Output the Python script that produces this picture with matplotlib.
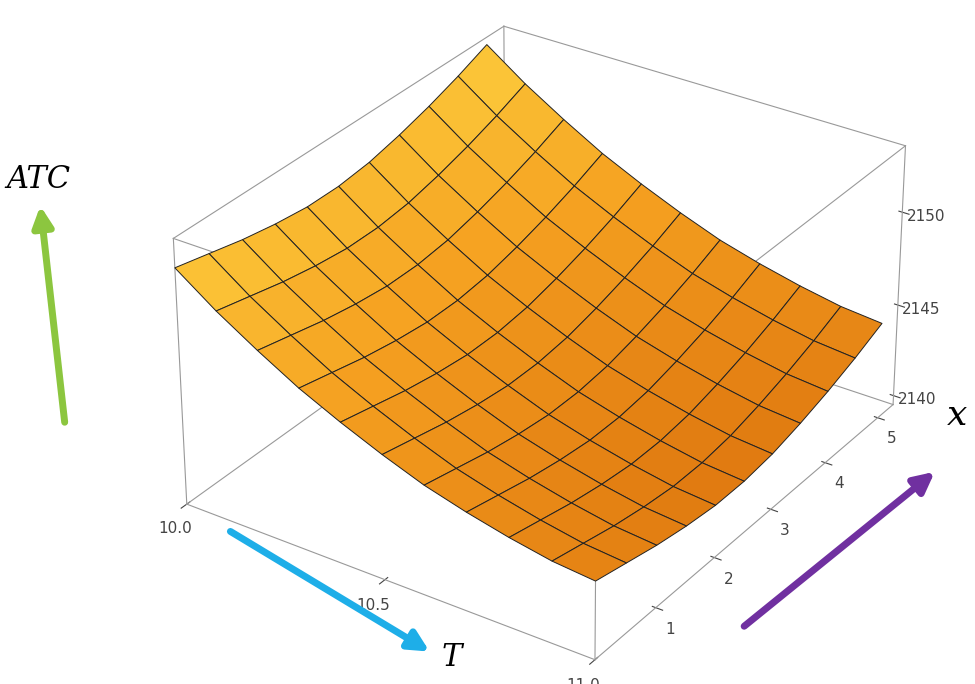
import numpy as np
import matplotlib
matplotlib.use("Agg")
import matplotlib.pyplot as plt
from matplotlib.colors import LinearSegmentedColormap

# T grid and the ATC profile along the x = 0 edge
T_vals = [10.0, 10.1, 10.2, 10.3, 10.4, 10.5, 10.6, 10.7, 10.8, 10.9, 11.0]
atc_T = [2152.0, 2150.5, 2149.2, 2148.0, 2147.0, 2146.1, 2145.3, 2144.7, 2144.2, 2143.8, 2143.6]
# x grid and the ATC offset along x
x_vals = [0.0, 0.5, 1.0, 1.5, 2.0, 2.5, 3.0, 3.5, 4.0, 4.5, 5.0]
atc_x = [0.0, -0.4, -0.8, -1.1, -1.3, -1.3, -1.1, -0.7, -0.2, 0.4, 1.1]

z_ticks = [2140, 2145, 2150]
T_ticks = [10.0, 10.5, 11.0]
x_ticks = [1, 2, 3, 4, 5]

TT, XX = np.meshgrid(T_vals, x_vals, indexing="ij")
ZZ = np.array(atc_T)[:, None] + np.array(atc_x)[None, :]

fig = plt.figure(figsize=(9.75, 6.84), dpi=100)
ax = fig.add_axes([0.06, -0.06, 0.98, 1.14], projection="3d")
ax.set_box_aspect((1.0, 1.15, 0.62))
ax.view_init(elev=30, azim=-56)

cmap = LinearSegmentedColormap.from_list("mm", ["#e07a10", "#f5a020", "#fcc93a"])
norm = (ZZ - ZZ.min()) / (ZZ.max() - ZZ.min())
ax.plot_surface(TT, XX, ZZ, facecolors=cmap(norm), edgecolor="#222222", linewidth=0.7,
                shade=False, antialiased=True)

t0, t1 = 10.0, 11.0
x0, x1 = 0.0, 5.3
z0, z1 = 2139.5, 2153.5
ax.set_xlim(t0, t1)
ax.set_ylim(x0, x1)
ax.set_zlim(z0, z1)

# bounding box like Mathematica
for a in (t0, t1):
    for b in (x0, x1):
        ax.plot([a, a], [b, b], [z0, z1], color="#999999", lw=0.8)
    for c in (z0, z1):
        ax.plot([a, a], [x0, x1], [c, c], color="#999999", lw=0.8)
for b in (x0, x1):
    for c in (z0, z1):
        ax.plot([t0, t1], [b, b], [c, c], color="#999999", lw=0.8)

for axis in (ax.xaxis, ax.yaxis, ax.zaxis):
    axis.set_pane_color((1, 1, 1, 0))
    axis.line.set_color((1, 1, 1, 0))
    axis._axinfo["grid"]["linewidth"] = 0
    axis._axinfo["tick"]["color"] = "#777777"
ax.grid(False)
ax.set_xticks(T_ticks)
ax.set_xticklabels([f"{t:.1f}" for t in T_ticks])
ax.set_yticks(x_ticks)
ax.set_zticks(z_ticks)
ax.tick_params(labelsize=11, colors="#444444", pad=2)

# annotation arrows and italic axis names
def arrow(p0, p1, color):
    fig.add_artist(matplotlib.patches.FancyArrowPatch(
        p0, p1, transform=fig.transFigure, arrowstyle="-|>,head_width=6,head_length=12",
        color=color, lw=5, mutation_scale=1))

W, H = 975, 684
arrow((65 / W, 1 - 425 / H), (40 / W, 1 - 203 / H), "#8cc63f")
arrow((228 / W, 1 - 530 / H), (432 / W, 1 - 653 / H), "#1eaee8")
arrow((742 / W, 1 - 628 / H), (937 / W, 1 - 470 / H), "#7030a0")
fig.text(38 / W, 1 - 180 / H, "ATC", fontsize=22, family="DejaVu Serif", style="italic", ha="center", va="center")
fig.text(452 / W, 1 - 658 / H, "T", fontsize=22, family="DejaVu Serif", style="italic", ha="center", va="center")
fig.text(957 / W, 1 - 415 / H, "x", fontsize=26, family="DejaVu Serif", style="italic", ha="center", va="center")

fig.savefig("out.png", dpi=100)
